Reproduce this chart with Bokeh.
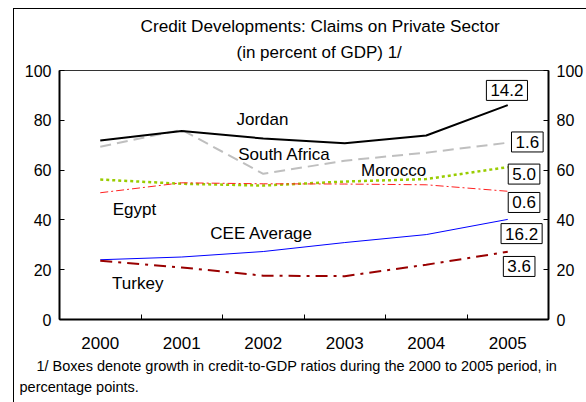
from bokeh.plotting import figure
from bokeh.models import (FixedTicker, LinearAxis, Range1d, Label, Title)
from bokeh.embed import file_html
from bokeh.resources import INLINE

years = ["2000", "2001", "2002", "2003", "2004", "2005"]
jordan = [71.9, 75.7, 72.7, 70.8, 73.9, 86.1]
south_africa = [69.4, 76.2, 58.5, 63.8, 67.0, 71.0]
morocco = [56.2, 54.5, 53.8, 55.4, 56.4, 61.2]
egypt = [50.9, 54.9, 54.5, 54.4, 54.1, 51.5]
cee_average = [24.0, 25.1, 27.3, 30.9, 34.1, 40.2]
turkey = [23.6, 20.9, 17.6, 17.4, 22.0, 27.2]
growth_boxes = ["14.2", "1.6", "5.0", "0.6", "16.2", "3.6"]
y_ticks = [0, 20, 40, 60, 80, 100]
title_lines = ["Credit Developments: Claims on Private Sector", "(in percent of GDP) 1/"]
footnote_lines = ["1/ Boxes denote growth in credit-to-GDP ratios during the 2000 to 2005 period, in",
                  "percentage points."]

FONT = "Liberation Sans"
xs = [i + 0.5 for i in range(len(years))]

p = figure(width=573, height=394, output_backend="svg", toolbar_location=None,
           x_range=Range1d(0, len(years)), y_range=Range1d(0, 100),
           frame_width=489, frame_height=249,
           min_border_left=45, min_border_right=39, min_border_top=61, min_border_bottom=84,
           y_axis_location="left", margin=(8, 0, 0, 13),
           styles={"border-left": "1.5px solid #000", "border-top": "1.5px solid #000",
                   "box-sizing": "border-box"})
p.title = None
p.grid.visible = False
p.outline_line_color = "#333333"
p.outline_line_width = 1
p.background_fill_color = "white"
p.border_fill_color = "white"

# x axis: labels at centers, tick marks at category boundaries (minor ticks)
xt = FixedTicker(ticks=xs, minor_ticks=list(range(len(years) + 1)))
xa = p.xaxis[0]
xa.ticker = xt
xa.major_label_overrides = {x: y for x, y in zip(xs, years)}
xa.major_tick_line_color = None
xa.minor_tick_in = 5
xa.minor_tick_out = 0
xa.minor_tick_line_color = "black"
xa.minor_tick_line_width = 1
xa.axis_line_color = "black"
xa.axis_line_width = 2
xa.major_label_text_font = FONT
xa.major_label_text_font_size = "17px"
xa.major_label_text_color = "black"
xa.major_label_standoff = 11

yt = FixedTicker(ticks=y_ticks)
ya = p.yaxis[0]
ya.ticker = yt
yr = LinearAxis(ticker=yt)
p.add_layout(yr, "right")
for ax in (ya, yr):
    ax.major_tick_in = 5
    ax.major_tick_out = 0
    ax.minor_tick_line_color = None
    ax.major_tick_line_color = "black"
    ax.axis_line_color = "black"
    ax.axis_line_width = 2
    ax.major_label_text_font = FONT
    ax.major_label_text_font_size = "16px"
    ax.major_label_text_color = "black"
    ax.major_label_standoff = 8

# series
p.line(xs, south_africa, line_color="#BFBFBF", line_width=2, line_dash="11 6")
p.line(xs, jordan, line_color="black", line_width=2)
p.line(xs, morocco, line_color="#99CC00", line_width=2.5, line_dash="3 3")
p.line(xs, egypt, line_color="#FF2020", line_width=1, line_dash="8 3 2 3")
p.line(xs, cee_average, line_color="#0000FF", line_width=1)
p.line(xs, turkey, line_color="#990000", line_width=2, line_dash="12 6 3 6")

# series names
name_pos = [("Jordan", 2.49, 80.3), ("South Africa", 2.76, 66.3), ("Morocco", 4.10, 59.8),
            ("Egypt", 0.92, 44.2), ("CEE Average", 2.48, 34.7), ("Turkey", 0.96, 14.5)]
for txt, x, y in name_pos:
    p.add_layout(Label(x=x, y=y, text=txt, text_font=FONT, text_font_size="17px",
                       text_align="center", text_baseline="middle", text_color="black"))

# growth boxes
box_pos = [(5.49, 92.0), (5.74, 71.3), (5.70, 58.4), (5.70, 47.0), (5.67, 34.5), (5.64, 21.3)]
for txt, (x, y) in zip(growth_boxes, box_pos):
    p.add_layout(Label(x=x, y=y, text=txt, text_font=FONT, text_font_size="17px",
                       text_align="center", text_baseline="middle", text_color="black",
                       border_line_color="black", border_line_width=1,
                       background_fill_color="white", padding=4))

# titles (bottom line added first)
p.add_layout(Title(text=title_lines[1], align="left", offset=177,
                   text_font=FONT, text_font_size="17px", text_font_style="normal",
                   text_color="black", standoff=18), "above")
p.add_layout(Title(text=title_lines[0], align="left", offset=81,
                   text_font=FONT, text_font_size="17.2px", text_font_style="normal",
                   text_color="black", standoff=-8), "above")

# footnote
p.add_layout(Title(text=footnote_lines[0], align="left", offset=-23, text_font=FONT,
                   text_font_size="14.5px", text_font_style="normal", text_color="black",
                   standoff=8), "below")
p.add_layout(Title(text=footnote_lines[1], align="left", offset=-40, text_font=FONT,
                   text_font_size="14.5px", text_font_style="normal", text_color="black",
                   standoff=-2), "below")

open("out.html", "w").write(file_html(p, INLINE))
